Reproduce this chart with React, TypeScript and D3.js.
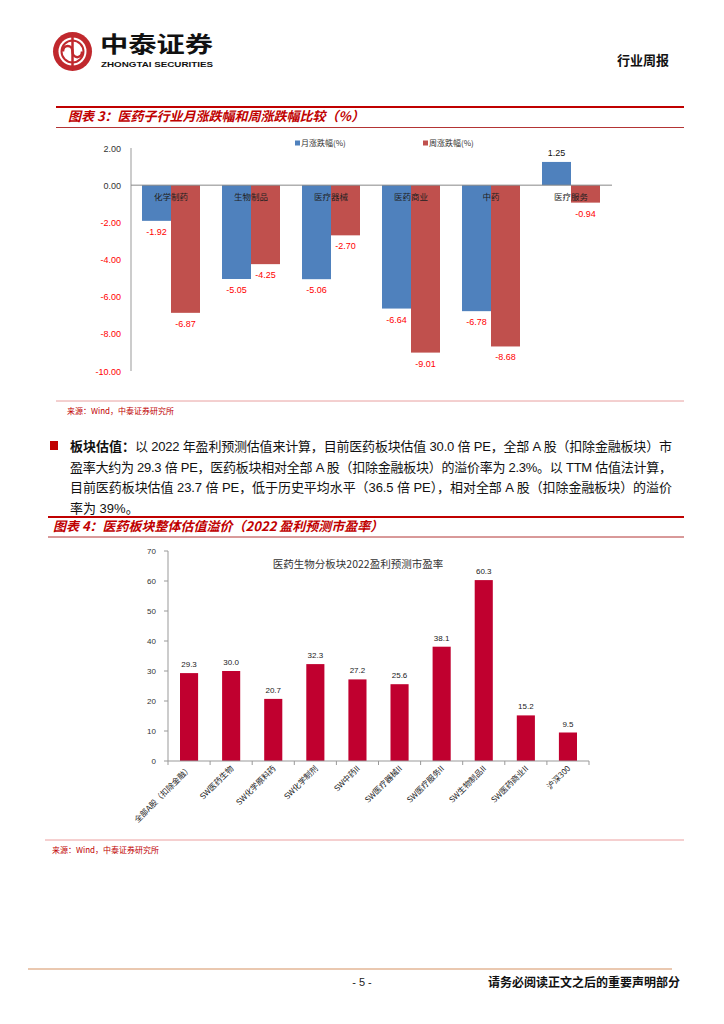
import React from "react";
import * as d3 from "d3";

const c1Categories = ["化学制药", "生物制品", "医疗器械", "医药商业", "中药", "医疗服务"];
const c1Series = ["月涨跌幅(%)", "周涨跌幅(%)"];
const c1Monthly = [-1.92, -5.05, -5.06, -6.64, -6.78, 1.25];
const c1Weekly = [-6.87, -4.25, -2.7, -9.01, -8.68, -0.94];
const c1Ticks = [2, 0, -2, -4, -6, -8, -10];

const c2Categories = [
  "全部A股（扣除金融）",
  "SW医药生物",
  "SW化学原料药",
  "SW化学制剂",
  "SW中药II",
  "SW医疗器械II",
  "SW医疗服务II",
  "SW生物制品II",
  "SW医药商业II",
  "沪深300",
];
const c2Values = [29.3, 30.0, 20.7, 32.3, 27.2, 25.6, 38.1, 60.3, 15.2, 9.5];
const c2Ticks = [0, 10, 20, 30, 40, 50, 60, 70];

const paraLead = "板块估值：";
const paraLines = [
  "以 2022 年盈利预测估值来计算，目前医药板块估值 30.0 倍 PE，全部 A 股（扣除金融板块）市",
  "盈率大约为 29.3 倍 PE，医药板块相对全部 A 股（扣除金融板块）的溢价率为 2.3%。以 TTM 估值法计算，",
  "目前医药板块估值 23.7 倍 PE，低于历史平均水平（36.5 倍 PE），相对全部 A 股（扣除金融板块）的溢价",
  "率为 39%。",
];

const FONT = "'Liberation Sans', 'Noto Sans CJK SC', sans-serif";
const CJK = "'Noto Sans CJK SC', 'Liberation Sans', sans-serif";
const BLUE = "#4f81bd";
const RED = "#c0504d";
const CRIMSON = "#c0002f";
const TITLE_RED = "#c00000";

const locale = d3.formatLocale({ decimal: ".", thousands: ",", grouping: [3], currency: ["", ""], minus: "-" });
const fmt2 = locale.format(".2f");
const fmt1 = locale.format(".1f");

function Chart1() {
  const y = d3.scaleLinear().domain([-10, 2]).range([371, 148]);
  const x = d3.scaleBand<string>().domain(c1Categories).range([131, 611]).paddingInner(0.275).paddingOuter(0.1375);
  const sub = d3.scaleBand<string>().domain(c1Series).range([0, x.bandwidth()]);
  const colors = [BLUE, RED];
  const seriesVals = [c1Monthly, c1Weekly];
  return (
    <g>
      {c1Series.map((s, i) => (
        <g key={s} transform={`translate(${295 + i * 128},143)`}>
          <rect x={0} y={-2.5} width={5} height={5} fill={colors[i]} />
          <text x={6} y={3} fontSize={8} fontFamily={CJK} fill="#333">{s}</text>
        </g>
      ))}
      {seriesVals.map((vals, si) =>
        vals.map((v, i) => {
          const bx = (x(c1Categories[i]) as number) + (sub(c1Series[si]) as number);
          const y0 = y(0);
          const y1 = y(v);
          return (
            <rect key={`${si}-${i}`} x={bx} y={Math.min(y0, y1)} width={sub.bandwidth()} height={Math.abs(y1 - y0)} fill={colors[si]} />
          );
        })
      )}
      <line x1={131} x2={131} y1={148} y2={371} stroke="#999" strokeWidth={1} />
      <line x1={131} x2={612} y1={y(0)} y2={y(0)} stroke="#888" strokeWidth={1} />
      {c1Ticks.map((t) => (
        <text key={t} x={121} y={y(t) + 3.5} fontSize={9} textAnchor="end" fontFamily={FONT} fill={t < 0 ? "#ff0000" : "#333"}>
          {fmt2(t)}
        </text>
      ))}
      {c1Categories.map((c) => (
        <text key={c} x={(x(c) as number) + x.bandwidth() / 2} y={200} fontSize={8.5} textAnchor="middle" fontFamily={CJK} fill="#222">
          {c}
        </text>
      ))}
      {seriesVals.map((vals, si) =>
        vals.map((v, i) => {
          const cx = (x(c1Categories[i]) as number) + (sub(c1Series[si]) as number) + sub.bandwidth() / 2;
          const yy = v < 0 ? y(v) + 14 : y(v) - 6;
          return (
            <text key={`l${si}-${i}`} x={cx} y={yy} fontSize={9} textAnchor="middle" fontFamily={FONT} fill={v < 0 ? "#ff0000" : "#111"}>
              {fmt2(v)}
            </text>
          );
        })
      )}
    </g>
  );
}

function Chart2() {
  const y = d3.scaleLinear().domain([0, 70]).range([761, 551]);
  const x = d3.scaleBand<string>().domain(c2Categories).range([168, 589]).paddingInner(0.57).paddingOuter(0.285);
  const step = x.step();
  return (
    <g>
      <text x={358} y={568} fontSize={10.5} textAnchor="middle" fontFamily={CJK} fill="#333">
        医药生物分板块2022盈利预测市盈率
      </text>
      {c2Values.map((v, i) => (
        <rect key={i} x={x(c2Categories[i])} y={y(v)} width={x.bandwidth()} height={y(0) - y(v)} fill={CRIMSON} />
      ))}
      <line x1={168} x2={168} y1={551} y2={761} stroke="#999" />
      {c2Ticks.map((t) => (
        <g key={t}>
          <line x1={164} x2={168} y1={y(t)} y2={y(t)} stroke="#999" />
          <text x={156} y={y(t) + 3} fontSize={8} textAnchor="end" fontFamily={FONT} fill="#333">{t}</text>
        </g>
      ))}
      <line x1={168} x2={589} y1={761} y2={761} stroke="#999" />
      {d3.range(c2Categories.length + 1).map((k) => (
        <line key={k} x1={168 + k * step} x2={168 + k * step} y1={761} y2={765} stroke="#999" />
      ))}
      {c2Values.map((v, i) => (
        <text key={`v${i}`} x={(x(c2Categories[i]) as number) + x.bandwidth() / 2} y={y(v) - 6} fontSize={8} textAnchor="middle" fontFamily={FONT} fill="#222">
          {fmt1(v)}
        </text>
      ))}
      {c2Categories.map((c) => {
        const cx = (x(c) as number) + x.bandwidth() / 2;
        return (
          <text key={c} transform={`translate(${cx + 3},${769}) rotate(-45)`} fontSize={8} textAnchor="end" fontFamily={CJK} fill="#222">
            {c}
          </text>
        );
      })}
    </g>
  );
}

function Logo() {
  return (
    <g>
      <circle cx={72.5} cy={51.5} r={19.5} fill="#c0282d" />
      <circle cx={72.5} cy={51.5} r={14} fill="#fff" />
      <circle cx={72.5} cy={51.5} r={11} fill="none" stroke="#c0282d" strokeWidth={2} />
      <path d="M63,51.5 C63,44 72.5,44 72.5,51.5 C72.5,59 82,59 82,51.5" fill="none" stroke="#c0282d" strokeWidth={2.5} />
      <line x1={72.5} x2={72.5} y1={36} y2={67} stroke="#c0282d" strokeWidth={2.5} />
      <text x={100} y={52} fontSize={22} fontWeight="bold" fontFamily={CJK} fill="#111" textLength={113} lengthAdjust="spacingAndGlyphs">
        中泰证券
      </text>
      <text x={101} y={66.5} fontSize={8} fontWeight="bold" fontFamily={FONT} fill="#111" textLength={112} lengthAdjust="spacingAndGlyphs">
        ZHONGTAI SECURITIES
      </text>
    </g>
  );
}

export default function App() {
  return (
    <svg width={724} height={1024} style={{ position: "absolute", left: 0, top: 0, background: "#fff" }} xmlns="http://www.w3.org/2000/svg">
      <rect width={724} height={1024} fill="#fff" />
      <Logo />
      <text x={669} y={65} fontSize={13} fontWeight="bold" textAnchor="end" fontFamily={CJK} fill="#111">行业周报</text>

      <line x1={56} x2={684} y1={107} y2={107} stroke={TITLE_RED} strokeWidth={2} />
      <text x={68} y={121} fontSize={13} fontWeight="bold" fontStyle="italic" fontFamily={CJK} fill={TITLE_RED}>
        图表 3：医药子行业月涨跌幅和周涨跌幅比较（%）
      </text>
      <line x1={56} x2={684} y1={127.5} y2={127.5} stroke="#a00000" strokeWidth={0.8} />
      <Chart1 />
      <line x1={56} x2={684} y1={401} y2={401} stroke="#e8a0a0" strokeWidth={1} />
      <text x={67} y={414} fontSize={8} fontFamily={CJK} fill={TITLE_RED}>来源：Wind，中泰证券研究所</text>

      <rect x={50} y={441} width={8} height={9} fill={TITLE_RED} />
      <text x={70} y={451} fontSize={13} fontWeight="bold" fontFamily={CJK} fill="#111">{paraLead}</text>
      {paraLines.map((l, i) => {
        const y0 = 451 + i * 20.6;
        const x0 = i === 0 ? 135 : 70;
        const last = i === paraLines.length - 1;
        const extra = last ? {} : { textLength: 672 - x0, lengthAdjust: "spacing" };
        return (
          <text key={i} x={x0} y={y0} fontSize={13} fontFamily={FONT} fill="#111" {...extra}>
            {l}
          </text>
        );
      })}

      <line x1={48} x2={684} y1={517} y2={517} stroke={TITLE_RED} strokeWidth={2} />
      <text x={53} y={531} fontSize={13} fontWeight="bold" fontStyle="italic" fontFamily={CJK} fill={TITLE_RED}>
        图表 4：医药板块整体估值溢价（2022 盈利预测市盈率）
      </text>
      <line x1={48} x2={684} y1={537} y2={537} stroke="#a00000" strokeWidth={0.8} />
      <Chart2 />
      <line x1={45} x2={684} y1={840} y2={840} stroke="#eca0a0" strokeWidth={1} />
      <text x={52} y={853} fontSize={8} fontFamily={CJK} fill={TITLE_RED}>来源：Wind，中泰证券研究所</text>

      <line x1={28} x2={672} y1={969} y2={969} stroke="#eac8b0" strokeWidth={2} />
      <text x={362} y={986} fontSize={11} textAnchor="middle" fontFamily={FONT} fill="#222">- 5 -</text>
      <text x={680} y={987} fontSize={12} fontWeight="bold" textAnchor="end" fontFamily={CJK} fill="#111">
        请务必阅读正文之后的重要声明部分
      </text>
    </svg>
  );
}
